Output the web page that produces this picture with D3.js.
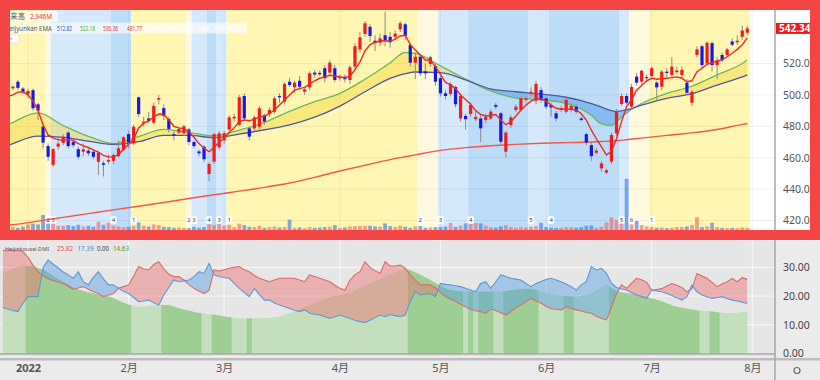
<!DOCTYPE html>
<html><head><meta charset="utf-8">
<script src="https://cdn.jsdelivr.net/npm/d3@7/dist/d3.min.js"></script>
<style>html,body{margin:0;padding:0;background:#fff;}svg{display:block;font-family:"Noto Sans","Noto Sans CJK JP",sans-serif;}</style>
</head><body><svg id="c" width="820" height="380"></svg>
<script>
// ---------- DATA ----------
const tradingDays = [
 ["2021-12",[27,28,29,30,31]],
 ["2022-01",[3,4,5,6,7,10,11,12,13,14,18,19,20,21,24,25,26,27,28,31]],
 ["2022-02",[1,2,3,4,7,8,9,10,11,14,15,16,17,18,22,23,24,25,28]],
 ["2022-03",[1,2,3,4,7,8,9,10,11,14,15,16,17,18,21,22,23,24,25,28,29,30,31]],
 ["2022-04",[1,4,5,6,7,8,11,12,13,14,18,19,20,21,22,25,26,27,28,29]],
 ["2022-05",[2,3,4,5,6,9,10,11,12,13,16,17,18,19,20,23,24,25,26,27,31]],
 ["2022-06",[1,2,3,6,7,8,9,10,13,14,15,16,17,21,22,23,24,27,28,29,30]],
 ["2022-07",[1,5,6,7,8,11,12,13,14,15,18,19,20,21,22,25,26,27,28,29]]
];
const open = [497,502,504.2,508.4,504,500.5,503,494,479.7,467.4,455.4,467,469.4,476,470,465.4,463.8,464.5,463.8,457.4,456.5,457.5,458,461,465,475,469.2,498.5,482,485,482.3,497,491.6,484.7,475,476,475.5,478,470,464,467,449.6,457.5,466.6,471,478,485,481,499.3,478.7,478.7,479.7,487,487.8,489.3,499.3,495.7,508.4,504.8,509,502,504.8,514.2,514,517,514.2,517,510.6,511.6,509.5,518,529,538.8,543.4,534.5,533.2,538,537,537,541.8,545,531.8,520.5,524.3,515,519.7,518.4,510.6,501,500.6,505,485,486.6,487.8,484.5,485,484,485,493.6,488.3,463.8,480.8,490.4,490.4,496.8,501,496.3,503,497.8,493.6,488.3,490.4,489.3,490.4,492.5,485,475,468,463.2,453.2,450.5,457.5,475.5,494.2,499.3,492.5,511.6,508.4,510.5,512,507.8,505.2,514.8,512.7,514.5,512.7,507.8,495,525.4,531,520,533,519,525.4,525.4,534,533.5,537,539.6];
const high = [503,507,506,509.5,505,504,504,495,481,469,466,473,475,477,471.5,467,469,466,465,464,458,462,463,471,474,477,481,499,486,489,495,500,494,486,477,479,481,479,471,465,468,457,476,477,477,487,488,500,501,480,487,493,488,492,499,501,508,511,509,512,505,515,516,515.5,519,522,519,513,513,519,533,540,547,545,538,539,553,540,541,547,546,533,527,526,520,525,520,512,503,508,506,501,488,495,490,487,488,491,495,489,477,487,494,499,499,505,509,505,499,495,490,493,498,495,494,486,476,470,466,458,453,476,491,501,501,507,514,516,513,518,509,516,517,524,518,518,510,503,531,532,534,534,524,527,530,536,538,544,544];
const low = [496,501,503,503,500.5,498,490,484,466,458,454,465,468,466,466.5,459,461,461,459,449,448,456,456,460,464,466,468,486,480,482,481,494,484,476,471,475,474,468,466,461,457,445,456,465,469,477,483,480,484,471,477,478,481,486,488,495,494,505,501,503,500,503,511,512,508,513,508,509,508,507,516,527,537,534,528,531,531,530,535,540,535,518,510,512,510,518,506,499,497,499,492,483,478,486,483,470,482,484,491,468,460,479,489,489,495,499,494,495,491,486,483,489,488,489,488,483,468,458,462,451,449.5,456,474,493,494,491,506,507,508,511,496,503,511,511,513,511,500,493,524,517,519,515,510,521,524,531,532,535,538];
const close = [502,505,505.2,504.5,502,502.5,491.5,490,469.6,460.6,465.5,469,473.4,467.4,468,460.6,465.4,462.8,460.6,463.2,455.5,458.5,461.7,466,473,469.6,479.7,487.8,483,483.4,493,498,486.6,478.3,474,478.3,480,470,467.4,462.8,459,456,475,475.5,475.5,485.7,486,498.5,485,473.4,485.7,491.5,483,490.4,497.8,498.5,507,506.3,507.8,505.2,503.6,513.8,513,513.2,510.6,520.5,509.5,511.6,510,517.6,531,536.7,545.6,537.5,533.2,536,534.5,533.5,539,545.6,537.5,520.5,524.3,513.7,513.7,524,508.4,501,499.3,507,494,499.3,484.5,493.6,486,478.7,486,489.3,492.5,470.2,476,485.7,492.5,497.8,497.8,502,507,496.8,492.5,492,485,491.5,496.8,493,489.3,484,469.6,461,464.5,456.4,452,474.5,489.3,499.3,495,505,507.8,515.4,511.5,517,504.8,514.8,514.2,518,515.5,516,501.4,502,529,519,533.2,519,522,522,529,532,534.5,541,542.34];
const volumeM = [2.8,3.0,3.2,3.0,3.3,4.0,4.2,4.0,6.8,5.6,6.1,3.6,3.6,3.8,3.5,3.9,3.4,3.6,3.3,4.8,3.9,4.5,3.6,3.4,3.2,3.3,3.6,4.6,3.6,3.4,4.0,3.8,3.3,3.2,3.0,3.1,3.0,2.9,3.3,3.0,3.2,4.0,3.8,4.2,3.6,3.9,3.2,4.2,3.8,3.3,3.2,3.6,3.0,3.2,3.4,3.1,3.2,5.4,3.0,3.1,2.9,3.2,3.0,3.1,3.2,3.3,3.8,3.0,3.1,3.4,3.5,3.6,3.6,3.6,3.4,3.3,4.3,3.5,3.2,3.6,3.3,3.0,3.4,3.5,3.0,3.1,3.2,3.2,3.4,4.4,3.3,3.7,4.3,4.5,4.4,4.3,3.6,3.2,3.0,3.4,3.8,3.2,3.0,3.2,3.1,3.3,3.5,4.5,3.2,3.0,2.9,3.0,3.2,3.2,3.0,3.2,3.6,3.7,3.0,3.3,4.6,6.1,5.3,5.7,17.4,4.0,5.0,3.8,3.4,3.2,3.0,3.1,2.9,3.0,3.2,3.2,3.4,3.8,6.1,3.2,3.4,4.5,3.2,3.0,2.9,3.0,2.9,3.1,2.946];
const emaFast = [498,499,500,501.8,502,500,496,490,481,474.5,472.5,471.5,471,471.5,471,469,467.5,466.5,465,463.5,461.5,460.5,460.5,462,465.5,468.5,472,479,482,483.5,486,487.8,487.5,484,480,479,478.5,476.5,473,469,466,463.8,466.5,470,472.4,476,479,483,484,483.5,484.5,486,486.5,488,490.4,493.5,496.8,500,503,504,504.8,507,509,510.6,511.5,512.5,512,511.5,511,512,515.9,521,528,532,533.5,534.5,534.5,534,535.5,537.5,538,532,528.6,525.4,522.2,522,518,513,508,506.5,504,500,497,494,490,487.5,486.6,487,487.5,484,481,483,486.5,490.4,493.5,496,497.5,497.5,496,493.5,491.5,491,491,490.8,490.4,488,484,477.5,472,467,461.7,464,472,483,492.5,497,503,506,509,510.6,510,510.4,510.6,511,511.5,510.6,508.4,509,514.8,517,519.5,520.5,521.5,522.5,524.3,526.5,529,532,536.36];
const emaSampleDates = ["2021-12-27","2021-12-29","2022-01-05","2022-01-12","2022-01-20","2022-01-27","2022-02-03","2022-02-10","2022-02-17","2022-02-25","2022-03-04","2022-03-11","2022-03-18","2022-03-25","2022-04-01","2022-04-08","2022-04-18","2022-04-21","2022-04-25","2022-05-02","2022-05-09","2022-05-16","2022-05-23","2022-05-31","2022-06-07","2022-06-14","2022-06-16","2022-06-21","2022-06-22","2022-06-24","2022-06-29","2022-07-07","2022-07-14","2022-07-21","2022-07-28","2022-07-29"];
const emaMid = [479.5,482.5,488.5,480.5,473.6,469,473.5,478,476,474,477.5,482.5,489.5,495.7,501,510,520.5,527,526.5,518.5,510,502.5,498,496.8,494.6,487,481.5,480.5,483,488.5,494.5,501,505.5,512.8,520,522.18];
const emaSlow = [466.5,469,473.7,473,470.6,468.5,470.2,474.2,474.2,472.8,475,477.8,480.9,485.8,492.9,502,510.5,513.5,514.6,514.2,509.5,503.8,502,500.5,498.5,494.5,492.2,490,489.4,490.5,493.5,497.8,500.8,506.3,511.5,512.82];
const ema200 = [416.8,417.3,419.6,422,424.4,426.8,429.1,431.5,434,436.4,438.7,441.1,443.9,447.5,451.5,455.2,458.8,460.6,461.8,464.7,466.4,467.6,468.5,469.2,469.6,470,470.3,470.6,470.8,471.4,472.5,474.2,475.8,478,481.2,481.77];
const phaseDates = ["2021-12-27","2022-01-07","2022-01-10","2022-01-27","2022-02-02","2022-02-17","2022-02-18","2022-02-24","2022-02-28","2022-03-02","2022-04-26","2022-05-02","2022-05-10","2022-05-26","2022-06-02","2022-06-23","2022-06-27","2022-07-01"];
const phaseIds = [1,2,3,4,1,2,3,4,3,1,2,3,4,5,4,5,6,1];
const plusDI = [36,36,36,36,35.5,33.5,30.8,28.5,27,26,25.4,24.9,24.4,23.4,22.3,22.8,23.3,22.4,21.5,20.8,19.8,20.4,20.9,22.7,23.3,23.9,27,30.3,29.5,29.1,31,32,29.5,27.6,26.8,26.8,25.6,24,22.7,21.8,20.9,22,29.1,28.7,29.2,29.7,30,30.3,29.2,28.5,27.2,26.2,25.6,25,25.6,26.2,26.2,26.2,26.2,25.6,25,27.4,26.8,26.2,25.6,25,23.8,22.7,22.1,25.5,27.5,28.5,32,30,28.8,27.9,32,30.5,30.5,30.8,29.7,27.4,25.6,23.9,23.9,23.9,22.9,21.3,19.8,19,18.1,17.2,16.3,15.4,14.9,14.6,14,15.5,15,14.2,13.4,14.6,16,16.9,18,19.2,18.3,17.5,16.5,15.6,15.4,15.2,16.3,15.7,15.2,14.8,14.3,14,13,12.2,11.7,16,20.9,23.9,22.7,24.5,26.2,25.7,24.8,22,22.3,22.6,23.5,24.4,23.8,23,21.5,22.5,27.9,27,26.2,24.8,23.3,24.2,25,26.2,25,26.4,25.82];
const minusDI = [16,15.5,15,14.6,17.5,19.8,19.8,19.9,30,32.6,31.2,29.8,28.4,27.4,26.2,28.5,25,23.9,26.5,28.5,26,24,23.9,22.7,21.7,20.9,19.5,18.1,18.3,18.6,17.7,16.9,20.4,23,25.6,25,25.3,25.6,26.8,28.5,27.9,31.4,27.4,26.8,26.5,26.2,24.4,22.7,21.2,19.8,22.7,20.5,18.6,18.6,17.6,16.9,16.3,15.7,15.1,14.6,15.2,14,13.7,13.4,12.8,12.2,12.8,13.4,12.8,12.2,11.6,11.1,10.8,11.6,12.5,13.4,12.8,13.6,13.2,12.8,13.4,18.1,21.5,20.4,20.7,20.9,19.8,24.4,24.1,23.9,23.6,23.3,22.7,22.1,21.5,24.4,25,22.7,25,27.4,26.8,26.2,25.9,25.6,24.4,23.3,24.4,25.1,25.8,26.2,25.6,25,24.2,23.3,22.1,23.9,25,30.3,29.1,29.7,27.9,24.5,23,22.5,22.1,21.2,20.4,19.8,19.2,22.1,21.8,21.5,20.9,20.2,19.4,18.6,19.8,23.8,21.5,20.4,19.8,19.2,19.5,19.8,19.2,18.6,18.3,17.9,17.39];
const adxLine = [28,28.8,29.5,30.2,30.6,30.5,30.2,29.8,29.2,28.2,27,26,25,24,23,22.3,21.8,21.3,20.9,20.5,20.2,19.9,19.3,18.5,17.7,17,16.6,16.3,16.4,16.6,16.8,16.9,16.9,16.9,16.4,15.8,15.3,14.9,14.5,14.1,13.9,13.7,13.5,13.2,12.9,12.6,12.5,12.3,12.2,12.2,12.2,12.3,12.4,12.5,12.6,12.8,13.4,14,14.7,15.4,16.2,16.9,17.7,18.4,19.1,19.8,20.1,20.4,20.7,21,21.9,22.8,23.6,24.4,25.2,26,26.8,27.6,28.3,29,29.7,29,28.2,27.4,26.5,25.6,24.6,23.6,22.7,22,21.9,21.7,21.6,21.5,21.5,21.5,21.5,21.5,21.6,21.7,21.8,22,22.2,22.4,22.6,22.5,22,21.5,21.1,20.7,20.3,20.1,20,19.9,19.8,20,20.4,21,22,23.2,24.1,22.7,21.8,21.3,21,20.7,20.5,20.2,19.7,19.2,18.7,18.2,17.5,16.8,16.3,15.9,15.6,15.3,15.1,14.9,14.8,14.6,14.4,14.2,14,14,14.2,14.4,14.63];
const adxDarkFrom = ["2022-01-03","2022-02-10","2022-02-25","2022-03-08","2022-04-22","2022-05-10","2022-05-12","2022-05-19","2022-06-07","2022-06-21","2022-07-20"];
const adxDarkTo   = ["2022-02-01","2022-02-22","2022-03-02","2022-03-08","2022-05-06","2022-05-10","2022-05-16","2022-05-27","2022-06-08","2022-07-15","2022-07-21"];
const priceTicks = [420,440,460,480,500,520];
const dmiTicks = [0,10,20,30];
const monthLabels = ["2022","2月","3月","4月","5月","6月","7月","8月"];
const emaLegend = ["512.82","522.18","536.36","481.77"];
const dmiLegend = ["25.82","17.39","0.00","14.63"];

// ---------- BUILD ----------
const dates = tradingDays.flatMap(([m,ds]) => ds.map(d => m + "-" + String(d).padStart(2,"0")));
const N = dates.length;
const idx = d => dates.indexOf(d);
const svg = d3.select("#c");
const defs = svg.append("defs");
const STEP = 5.03;
const x = d3.scaleLinear().domain([0, N-1]).range([2.84, 2.84 + STEP*(N-1)]);
const yP = d3.scaleLinear().domain([420,520]).range([220.5,63.5]);
const yV = d3.scaleLinear().domain([0,10]).range([238,204]);
const yD = d3.scaleLinear().domain([0,30]).range([353.5,267.4]);
const PLOT_R = 775;

svg.append("rect").attr("x",0).attr("y",0).attr("width",820).attr("height",240).attr("fill","#fff");
svg.append("rect").attr("x",0).attr("y",240).attr("width",820).attr("height",140).attr("fill","#ebebeb");
svg.append("rect").attr("x",0).attr("y",240).attr("width",PLOT_R).attr("height",116).attr("fill","#e6e6e6");

defs.append("clipPath").attr("id","clipTop").append("rect").attr("x",0).attr("y",0).attr("width",PLOT_R).attr("height",240);
defs.append("clipPath").attr("id","clipBot").append("rect").attr("x",0).attr("y",240).attr("width",PLOT_R).attr("height",115);

const gTop = svg.append("g").attr("clip-path","url(#clipTop)");
const phaseColor = {1:"#fff6b3",2:"#fffadf",3:"#d5e9fb",4:"#bddcf7",5:"#d5e9fb",6:"#fffadf"};
phaseDates.forEach((d,k) => {
  const i0 = idx(d), i1 = k+1<phaseDates.length ? idx(phaseDates[k+1]) : N;
  gTop.append("rect").attr("x", x(i0)-STEP/2).attr("y",0)
     .attr("width", x(i1)-x(i0)).attr("height",240).attr("fill", phaseColor[phaseIds[k]]);
});
const monthStart = [];
dates.forEach((d,i)=>{ if(i===0) return; if(d.slice(0,7)!==dates[i-1].slice(0,7)) monthStart.push(i); });
monthStart.push(N);
gTop.selectAll(".hg").data(priceTicks).join("line").attr("x1",0).attr("x2",PLOT_R)
  .attr("y1",d=>yP(d)).attr("y2",d=>yP(d)).attr("stroke","rgba(0,0,0,0.06)");
gTop.selectAll(".vg").data(monthStart).join("line").attr("x1",d=>x(d)).attr("x2",d=>x(d))
  .attr("y1",0).attr("y2",240).attr("stroke","rgba(0,0,0,0.05)");

gTop.selectAll(".vol").data(d3.range(N)).join("rect")
  .attr("x", i=>x(i)-1.9).attr("width",3.8)
  .attr("y", i=>yV(volumeM[i])).attr("height", i=>yV(0)-yV(volumeM[i]))
  .attr("fill", i=> close[i]>=open[i] ? "rgba(238,104,104,0.62)" : "rgba(62,118,228,0.62)");

phaseDates.forEach((d,k)=>{
  if(k===0) return;
  const cx = x(idx(d));
  const mg = gTop.append("g");
  mg.append("rect").attr("x",cx-3.2).attr("y",216.2).attr("width",6.4).attr("height",7.6).attr("rx",1.5)
    .attr("fill","#fff").attr("opacity",0.95);
  mg.append("text").attr("x",cx).attr("y",222.3).attr("text-anchor","middle").attr("font-size",6)
    .attr("fill","#444").text(phaseIds[k]);
});

const samples = emaSampleDates.map((d,k)=>({i:idx(d), g:emaMid[k], s:emaSlow[k], r:ema200[k]}));
const mono = d3.curveMonotoneX;
gTop.append("path").datum(samples).attr("fill","none").attr("stroke","#f0584a").attr("stroke-width",1.4)
  .attr("d", d3.line().x(d=>x(d.i)).y(d=>yP(d.r)).curve(mono));

const cAbove = defs.append("clipPath").attr("id","aboveSlow");
cAbove.append("path").datum(samples).attr("d", d3.area().x(d=>x(d.i)).y0(0).y1(d=>yP(d.s)).curve(mono));
const cBelow = defs.append("clipPath").attr("id","belowSlow");
cBelow.append("path").datum(samples).attr("d", d3.area().x(d=>x(d.i)).y0(240).y1(d=>yP(d.s)).curve(mono));
const band = d3.area().x(d=>x(d.i)).y0(d=>yP(d.s)).y1(d=>yP(d.g)).curve(mono);
gTop.append("g").attr("clip-path","url(#aboveSlow)").append("path").datum(samples).attr("d",band).attr("fill","rgba(242,214,60,0.45)");
gTop.append("g").attr("clip-path","url(#belowSlow)").append("path").datum(samples).attr("d",band).attr("fill","rgba(55,140,228,0.42)");
gTop.append("path").datum(samples).attr("fill","none").attr("stroke","#6cb85c").attr("stroke-width",1.3)
  .attr("d", d3.line().x(d=>x(d.i)).y(d=>yP(d.g)).curve(mono));
gTop.append("path").datum(samples).attr("fill","none").attr("stroke","#4e5a9c").attr("stroke-width",1.3)
  .attr("d", d3.line().x(d=>x(d.i)).y(d=>yP(d.s)).curve(mono));

gTop.selectAll(".wick").data(d3.range(N)).join("line")
  .attr("x1",i=>x(i)).attr("x2",i=>x(i)).attr("y1",i=>yP(high[i])).attr("y2",i=>yP(low[i]))
  .attr("stroke","#8c8c8c").attr("stroke-width",1);
gTop.selectAll(".body").data(d3.range(N)).join("rect")
  .attr("x",i=>x(i)-1.6).attr("width",3.2)
  .attr("y",i=>yP(Math.max(open[i],close[i])))
  .attr("height",i=>Math.max(1.3, Math.abs(yP(open[i])-yP(close[i]))))
  .attr("fill",i=> close[i]>=open[i] ? "#f21b1b" : "#1717e8");
gTop.append("path").datum(d3.range(N)).attr("fill","none").attr("stroke","#ee2a22").attr("stroke-width",1.4)
  .attr("d", d3.line().x(i=>x(i)).y(i=>yP(emaFast[i])));

function fitText(g, tx, ty, str, w, size, col){
  return g.append("text").attr("x",tx).attr("y",ty).attr("font-size",size).attr("fill",col)
    .attr("textLength",w).attr("lengthAdjust","spacingAndGlyphs").text(str);
}
gTop.append("rect").attr("x",0).attr("y",11).attr("width",58).attr("height",10.5).attr("fill","rgba(255,255,255,0.65)");
gTop.append("rect").attr("x",0).attr("y",22.5).attr("width",247).attr("height",11).attr("fill","rgba(255,255,255,0.6)");
fitText(gTop,3,19.3,"出来高",22,7.5,"#555");
fitText(gTop,30,19.3,volumeM[N-1].toFixed(3)+"M",22,7.3,"#e8332b");
fitText(gTop,5,30.8,"Heijyunkan EMA",47,6.5,"#555");
const legCols = ["#3b48b0","#4aa84a","#e8332b","#e8332b"];
const legX = [57,80,103,127];
emaLegend.forEach((t,k)=> fitText(gTop,legX[k],30.8,t,15,6.5,legCols[k]));
for(let k=0;k<6;k++) fitText(gTop,150+k*16,30.8,"0.00",11,6.5,"#fff");
gTop.append("rect").attr("x",3).attr("y",34.5).attr("width",16).attr("height",8).attr("rx",2).attr("fill","#fff").attr("stroke","#ddd").attr("stroke-width",0.6);
gTop.append("text").attr("x",11).attr("y",41).attr("text-anchor","middle").attr("font-size",6).attr("fill","#666").text("^");

const axP = svg.append("g").attr("transform",`translate(${PLOT_R},0)`)
  .call(d3.axisRight(yP).tickValues(priceTicks).tickFormat(d=>d.toFixed(2)).tickSize(0).tickPadding(8));
axP.select(".domain").remove();
axP.selectAll("text").attr("font-size",10.5).attr("fill","#555").attr("font-family","Noto Sans, sans-serif");
svg.append("rect").attr("x",PLOT_R+1).attr("y",yP(close[N-1])-5.5).attr("width",45).attr("height",11).attr("fill","#f01818");
svg.append("text").attr("x",PLOT_R+4).attr("y",yP(close[N-1])+3.8).attr("font-size",10).attr("font-weight","bold").attr("fill","#fff").text(close[N-1].toFixed(2));

const gBot = svg.append("g").attr("clip-path","url(#clipBot)");
gBot.selectAll(".dh").data(dmiTicks.slice(1)).join("line").attr("x1",0).attr("x2",PLOT_R)
  .attr("y1",d=>yD(d)).attr("y2",d=>yD(d)).attr("stroke","rgba(255,255,255,0.75)");
gBot.selectAll(".dv").data(monthStart).join("line").attr("x1",d=>x(d)).attr("x2",d=>x(d))
  .attr("y1",240).attr("y2",356).attr("stroke","rgba(255,255,255,0.7)");
const dmi = d3.range(N).map(i=>({i, p:plusDI[i], m:minusDI[i], a:adxLine[i]}));
const adxArea = d3.area().x(d=>x(d.i)).y0(yD(0)).y1(d=>yD(d.a));
gBot.append("path").datum(dmi).attr("d",adxArea).attr("fill","#c4dfbd");
const darkClip = defs.append("clipPath").attr("id","adxDark");
adxDarkFrom.forEach((d,k)=>{
  const a = idx(d), b = idx(adxDarkTo[k]);
  darkClip.append("rect").attr("x",x(a)-STEP/2).attr("y",240).attr("width",x(b)-x(a)+STEP).attr("height",120);
});
gBot.append("g").attr("clip-path","url(#adxDark)").append("path").datum(dmi).attr("d",adxArea).attr("fill","#9fce95");
const cAM = defs.append("clipPath").attr("id","aboveM");
cAM.append("path").datum(dmi).attr("d", d3.area().x(d=>x(d.i)).y0(240).y1(d=>yD(d.m)));
const cAP = defs.append("clipPath").attr("id","aboveP");
cAP.append("path").datum(dmi).attr("d", d3.area().x(d=>x(d.i)).y0(240).y1(d=>yD(d.p)));
const diBand = d3.area().x(d=>x(d.i)).y0(d=>yD(d.m)).y1(d=>yD(d.p));
gBot.append("g").attr("clip-path","url(#aboveM)").append("path").datum(dmi).attr("d",diBand).attr("fill","rgba(236,110,110,0.45)");
gBot.append("g").attr("clip-path","url(#aboveP)").append("path").datum(dmi).attr("d",diBand).attr("fill","rgba(85,158,226,0.45)");
gBot.append("path").datum(dmi).attr("fill","none").attr("stroke","#e06a6a").attr("stroke-width",1.1)
  .attr("d", d3.line().x(d=>x(d.i)).y(d=>yD(d.p)));
gBot.append("path").datum(dmi).attr("fill","none").attr("stroke","#5c9ad6").attr("stroke-width",1.1)
  .attr("d", d3.line().x(d=>x(d.i)).y(d=>yD(d.m)));
fitText(svg,5,250.5,"Heijinkousei DMI",44,6,"#555");
const dCols = ["#e05555","#3d86d0","#444","#3aa23a"];
const dX = [57,77.5,97,113], dW = [16,16,12,16];
dmiLegend.forEach((t,k)=> fitText(svg,dX[k],250.5,t,dW[k],6.5,dCols[k]));

svg.append("line").attr("x1",0).attr("x2",PLOT_R).attr("y1",354).attr("y2",354).attr("stroke","#8a8a8a").attr("stroke-width",1);
svg.append("rect").attr("x",0).attr("y",358).attr("width",820).attr("height",2.5).attr("fill","#bdbdbd");
const axD = svg.append("g").attr("transform",`translate(${PLOT_R},0)`)
  .call(d3.axisRight(yD).tickValues(dmiTicks).tickFormat(d=>d.toFixed(2)).tickSize(0).tickPadding(8));
axD.select(".domain").remove();
axD.selectAll("text").attr("font-size",10.5).attr("fill","#444").attr("font-family","Noto Sans, sans-serif");
svg.append("line").attr("x1",PLOT_R).attr("x2",PLOT_R).attr("y1",0).attr("y2",380).attr("stroke","#a8a8a8").attr("stroke-width",1.5);

const axX = svg.append("g").attr("transform","translate(0,361)")
  .call(d3.axisBottom(x).tickValues(monthStart).tickFormat((d,k)=>monthLabels[k]).tickSize(0).tickPadding(3));
axX.select(".domain").remove();
axX.selectAll("text").attr("font-size",11).attr("fill","#555")
  .attr("font-weight",(d,k)=>k===0?"bold":"normal").attr("font-family","Noto Sans, Noto Sans CJK JP, sans-serif");
svg.append("circle").attr("cx",797).attr("cy",370.5).attr("r",3).attr("fill","none").attr("stroke","#666").attr("stroke-width",1.2);

svg.append("rect").attr("x",5).attr("y",5).attr("width",810).attr("height",230).attr("fill","none").attr("stroke","#f44545").attr("stroke-width",10);
</script></body></html>
